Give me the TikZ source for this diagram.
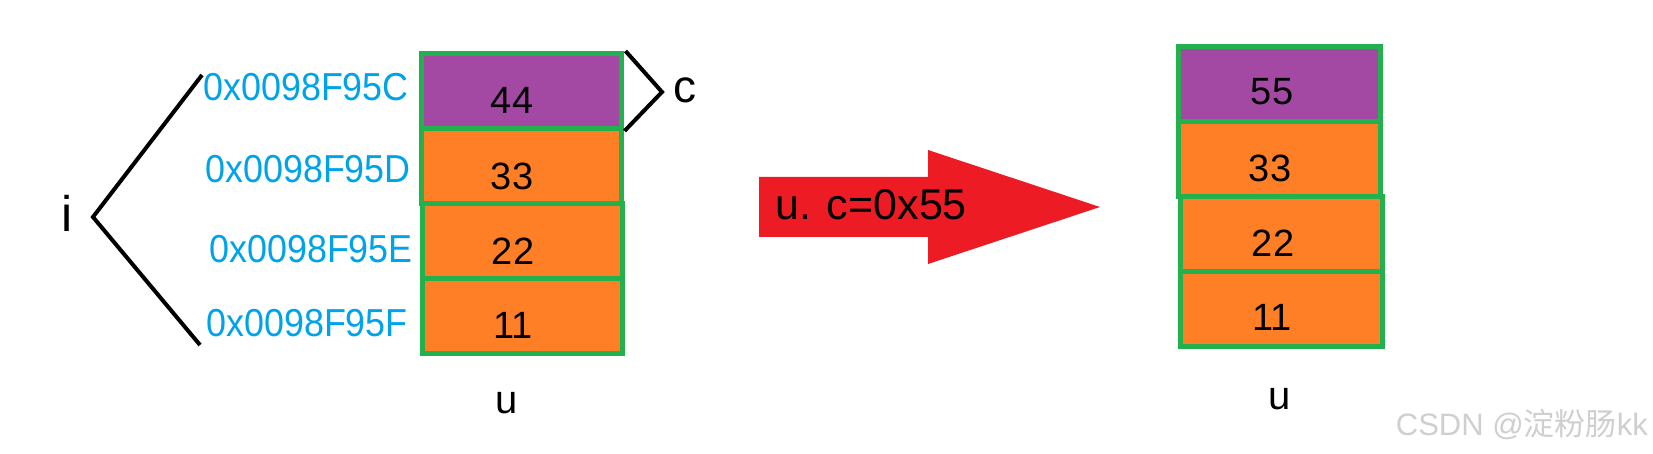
\documentclass[tikz,border=0pt]{standalone}
\usepackage{fontspec}
\setmainfont{Liberation Sans}
\newfontfamily\addrfont[FakeStretch=0.92]{Liberation Sans}
\newfontfamily\cjkfont{Noto Sans CJK SC}
\definecolor{cellgreen}{HTML}{22B14C}
\definecolor{cellpurple}{HTML}{A349A4}
\definecolor{cellorange}{HTML}{FF7F27}
\definecolor{arrowred}{HTML}{ED1C24}
\definecolor{addrblue}{HTML}{00A2E8}
\definecolor{wmgrey}{HTML}{CFCFCF}
\begin{document}
\begin{tikzpicture}[x=1pt,y=-1pt,
  cell/.style={draw=cellgreen, line width=5pt, minimum width=200pt, minimum height=75pt, inner sep=0pt},
  rcell/.style={cell, minimum width=202pt},
  pcell/.style={fill=cellpurple},
  ocell/.style={fill=cellorange},
  num/.style={inner sep=0pt, font=\fontsize{38}{38}\selectfont},
  addr/.style={inner sep=0pt, anchor=base east, text=addrblue, font=\addrfont\fontsize{39}{39}\selectfont},
  biglbl/.style={inner sep=0pt, anchor=base, font=\fontsize{50}{50}\selectfont},
  ulbl/.style={inner sep=0pt, anchor=base, font=\fontsize{40}{40}\selectfont},
  brace/.style={line width=4pt, line join=miter},
]
\useasboundingbox (0,0) rectangle (1653,454);

% left stack
\node[cell,pcell] (l1) at (521,91) {};
\node[cell,ocell] (l2) at (521,166) {};
\node[cell,ocell] (l3) at (522,241) {};
\node[cell,ocell] (l4) at (522,316) {};
\node[num] (n44) at ([xshift=-9pt,yshift=-9pt]l1.center) {44};
\node[num] (n33l) at ([xshift=-9pt,yshift=-10pt]l2.center) {33};
\node[num] (n22l) at ([xshift=-9pt,yshift=-10pt]l3.center) {22};
\node[num] (n11l) at ([xshift=-9pt,yshift=-9pt]l4.center) {11};

% addresses
\node[addr] (a1) at (409,101) {0x0098F95C};
\node[addr] (a2) at (411,183) {0x0098F95D};
\node[addr] (a3) at (413,262) {0x0098F95E};
\node[addr] (a4) at (408,336) {0x0098F95F};

% i brace
\coordinate (itop) at (202,75);
\coordinate (ivert) at (93,217);
\coordinate (ibot) at (200,345);
\draw[brace] (itop) -- (ivert) -- (ibot);
\node[biglbl] (i) at (67,232) {i};

% c brace
\coordinate (cvert) at (662,92);
\draw[brace] ([xshift=2pt]l1.north east) -- (cvert) -- ([xshift=1pt]l1.south east);
\node[biglbl, font=\fontsize{46}{46}\selectfont] (c) at (685,103) {c};

\node[ulbl] (u1) at (507,413) {u};

% red arrow
\fill[arrowred] (759,177) -- (928,177) -- (928,150) -- (1100,207) -- (928,264) -- (928,237) -- (759,237) -- cycle;
\node[inner sep=0pt, anchor=west, font=\fontsize{43}{43}\selectfont] (op) at (775,205) {u. c=0x55};

% right stack
\node[rcell,pcell] (r1) at (1279,84) {};
\node[rcell,ocell] (r2) at (1279,159) {};
\node[rcell,ocell] (r3) at (1281,234) {};
\node[rcell,ocell] (r4) at (1281,309) {};
\node[num] (n55) at ([xshift=-7pt,yshift=-8pt]r1.center) {55};
\node[num] (n33r) at ([xshift=-9pt,yshift=-9pt]r2.center) {33};
\node[num] (n22r) at ([xshift=-8pt,yshift=-9pt]r3.center) {22};
\node[num] (n11r) at ([xshift=-9pt,yshift=-8pt]r4.center) {11};

\node[ulbl] (u2) at (1280,409) {u};

% watermark
\node[inner sep=0pt, anchor=base east, text=wmgrey, font=\fontsize{31}{31}\selectfont] (wm) at (1648,435) {CSDN @{\cjkfont 淀粉肠}kk};
\end{tikzpicture}
\end{document}
